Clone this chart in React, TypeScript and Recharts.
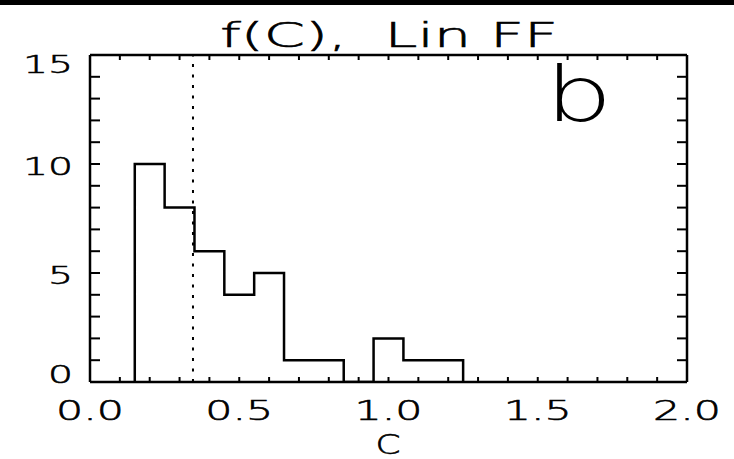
import React from 'react';
import { ComposedChart, Line, XAxis, YAxis, ReferenceLine, Customized } from 'recharts';

// Histogram bin edges and counts
const binEdges = [0.15, 0.25, 0.35, 0.45, 0.55, 0.65, 0.75, 0.85, 0.95, 1.05, 1.15, 1.25];
const binCounts = [10, 8, 6, 4, 5, 1, 1, 0, 2, 1, 1];
// Dotted reference value
const markerC = 0.345;
// Axis ticks
const xTicks = [0, 0.1, 0.2, 0.3, 0.4, 0.5, 0.6, 0.7, 0.8, 0.9, 1.0, 1.1, 1.2, 1.3, 1.4, 1.5, 1.6, 1.7, 1.8, 1.9, 2.0];
const xLabelTicks = [0, 0.5, 1.0, 1.5, 2.0];
const xLabelTexts = ['0.0', '0.5', '1.0', '1.5', '2.0'];
const yTicks = [0, 1, 2, 3, 4, 5, 6, 7, 8, 9, 10, 11, 12, 13, 14, 15];
const yLabelTicks = [0, 5, 10, 15];
const yLabelTexts = ['0', '5', '10', '15'];
const titleText = 'f(C),  Lin FF';
const xTitle = 'C';
const panelLetter = 'b';

// step outline built from the bins
const stepData: { x: number; y: number }[] = [];
stepData.push({ x: binEdges[0], y: 0 });
binCounts.forEach((c, i) => {
  stepData.push({ x: binEdges[i], y: c });
  stepData.push({ x: binEdges[i + 1], y: c });
});
stepData.push({ x: binEdges[binEdges.length - 1], y: 0 });

const FONT = '"DejaVu Sans", sans-serif';
const FW = 200;
const TOP = 55;
const BOTTOM = 382;
const TXT = { fontFamily: FONT, fontWeight: FW, fill: '#000', stroke: '#000', strokeWidth: 0.6 };

const findIdx = (arr: number[], v: number) => arr.findIndex((t) => Math.abs(t - v) < 1e-6);

const BottomTick = (props: any) => {
  const { x, y, payload } = props;
  const i = findIdx(xLabelTicks, payload.value);
  return (
    <g>
      <line x1={x} y1={y} x2={x} y2={y - 5} stroke="#000" strokeWidth={2} />
      {i >= 0 && (
        <text x={x} y={y + 38} textAnchor="middle" {...TXT} fontSize={27}
          textLength={68} lengthAdjust="spacingAndGlyphs">
          {xLabelTexts[i]}
        </text>
      )}
    </g>
  );
};

const TopTick = (props: any) => {
  const { x, y } = props;
  return <line x1={x} y1={y} x2={x} y2={y + 5} stroke="#000" strokeWidth={2} />;
};

const LeftTick = (props: any) => {
  const { x, y, payload } = props;
  const i = findIdx(yLabelTicks, payload.value);
  const center = Math.min(Math.max(y + 2, TOP + 9), BOTTOM - 8);
  return (
    <g>
      <line x1={x} y1={y} x2={x + 10} y2={y} stroke="#000" strokeWidth={2} />
      {i >= 0 && (
        <text x={x - 17} y={center + 9} textAnchor="end" {...TXT} fontSize={25}
          textLength={25 * yLabelTexts[i].length} lengthAdjust="spacingAndGlyphs">
          {yLabelTexts[i]}
        </text>
      )}
    </g>
  );
};

const RightTick = (props: any) => {
  const { x, y } = props;
  return <line x1={x} y1={y} x2={x - 10} y2={y} stroke="#000" strokeWidth={2} />;
};

const Annotations = () => (
  <g>
    <text x={220} y={47} {...TXT} fontSize={34} textLength={338}
      lengthAdjust="spacingAndGlyphs" style={{ whiteSpace: 'pre' }}>
      {titleText}
    </text>
    <text x={388} y={454} textAnchor="middle" {...TXT} fontSize={26}
      textLength={25} lengthAdjust="spacingAndGlyphs">
      {xTitle}
    </text>
    <text transform="translate(545,121) scale(1.4,1)" fontFamily={FONT} fontWeight={100} fill="#000" fontSize={76}>
      {panelLetter}
    </text>
  </g>
);

export default function App() {
  return (
    <div style={{ position: 'absolute', left: 0, top: 0, width: 734, height: 459, background: '#fff' }}>
      <div style={{ position: 'absolute', left: 0, top: 0, width: 734, height: 5, background: '#000' }} />
      <ComposedChart width={734} height={459} data={stepData}
        margin={{ top: 54, right: 46, bottom: 76, left: 89 }}>
        <XAxis dataKey="x" type="number" domain={[0, 2]} ticks={xTicks} interval={0} height={1}
          tickSize={0} tickMargin={0} tickLine={false} tick={<BottomTick />} allowDataOverflow
          axisLine={{ stroke: '#000', strokeWidth: 2.5 }} />
        <XAxis xAxisId="top" orientation="top" dataKey="x" type="number" domain={[0, 2]} ticks={xTicks}
          interval={0} height={1} tickSize={0} tickMargin={0} tickLine={false} tick={<TopTick />}
          allowDataOverflow axisLine={{ stroke: '#000', strokeWidth: 2.5 }} />
        <YAxis type="number" domain={[0, 15]} ticks={yTicks} interval={0} width={1} tickSize={0}
          tickMargin={0} tickLine={false} tick={<LeftTick />} allowDataOverflow
          axisLine={{ stroke: '#000', strokeWidth: 2.5 }} />
        <YAxis yAxisId="right" orientation="right" type="number" domain={[0, 15]} ticks={yTicks}
          interval={0} width={1} tickSize={0} tickMargin={0} tickLine={false} tick={<RightTick />}
          allowDataOverflow axisLine={{ stroke: '#000', strokeWidth: 2.5 }} />
        <ReferenceLine x={markerC} stroke="#000" strokeWidth={2} strokeDasharray="3 7.5" />
        <Line type="linear" dataKey="y" stroke="#000" strokeWidth={2.5} dot={false}
          isAnimationActive={false} strokeLinejoin="miter" strokeLinecap="square" />
        <Customized component={Annotations} />
      </ComposedChart>
    </div>
  );
}
